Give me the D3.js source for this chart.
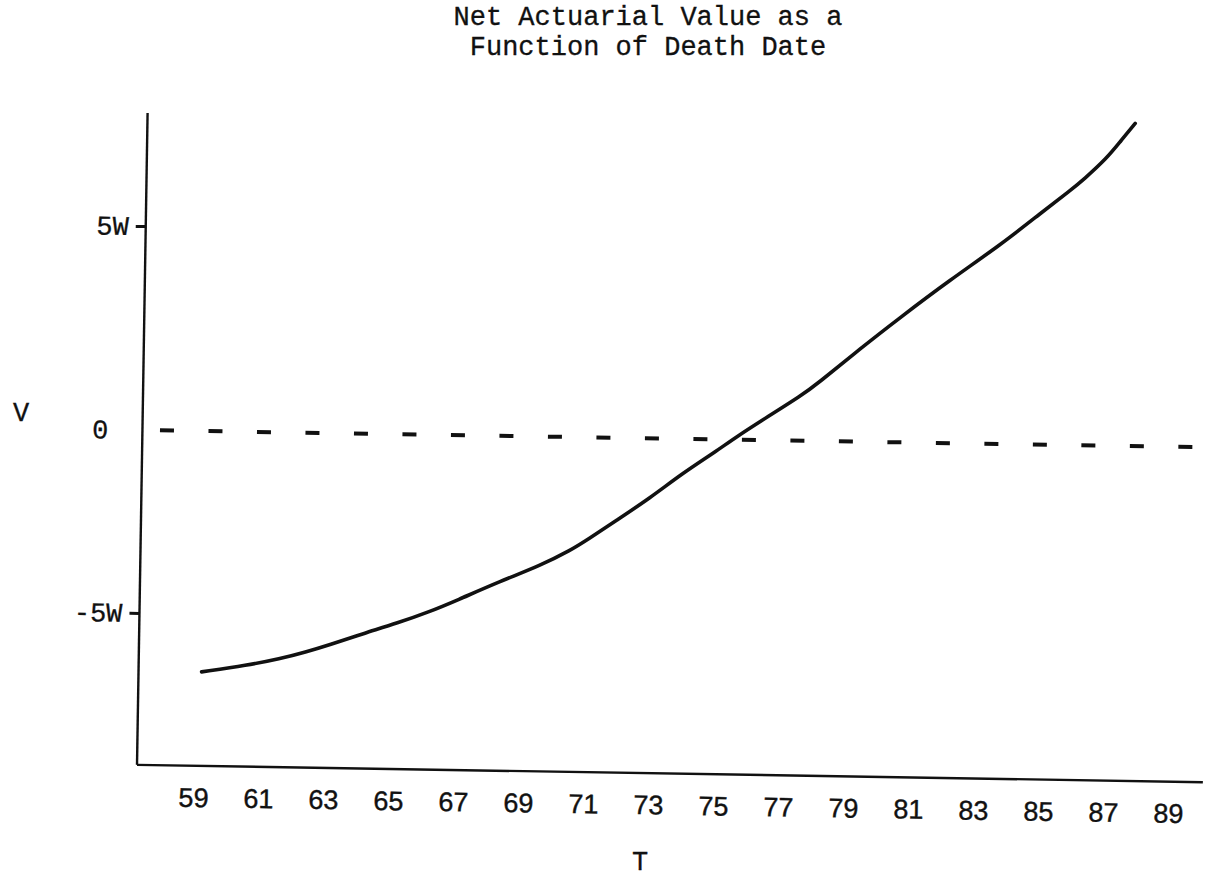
<!DOCTYPE html>
<html>
<head>
<meta charset="utf-8">
<script src="https://cdn.jsdelivr.net/npm/d3@7"></script>
<style>
  html, body { margin: 0; padding: 0; background: #fff; }
  svg { display: block; }
</style>
</head>
<body>
<svg id="chart" width="1217" height="881"></svg>
<script>
// ---- data ----
const titleLines = ["Net Actuarial Value as a", "Function of Death Date"];
const xLabel = "T";
const yLabel = "V";
const xTickValues = [59, 61, 63, 65, 67, 69, 71, 73, 75, 77, 79, 81, 83, 85, 87, 89];
const yTickValues = [-5, 0, 5];
const yTickLabels = ["-5W", "0", "5W"];
const xAxisExtent = [57.26, 90.06];   // years spanned by the drawn T axis
const yAxisExtent = [-9.15, 7.77];    // values (in W) spanned by the drawn V axis
const zeroLineExtent = [57.8, 89.9];  // years spanned by the dashed V = 0 line
const deathYear = [59.2, 60.6, 61.6, 62.4, 63.1, 64.2, 65.2, 66.2, 67.0, 68.3, 69.6, 70.5,
                   71.0, 71.9, 72.9, 73.9, 74.9, 75.5, 76.5, 77.5, 78.0, 79.3, 80.5, 82.0,
                   83.6, 84.8, 85.7, 86.1, 86.8, 87.2, 87.65];
const netValue = [-6.58, -6.38, -6.19, -5.99, -5.79, -5.45, -5.16, -4.83, -4.52, -3.99, -3.51, -3.09,
                  -2.80, -2.25, -1.64, -0.94, -0.34, 0.05, 0.58, 1.10, 1.40, 2.28, 3.05, 3.98,
                  4.90, 5.68, 6.25, 6.52, 7.05, 7.46, 7.91];

// ---- layout ----
const svg = d3.select("#chart");
const mono = "'Liberation Mono', 'Courier New', monospace";
const sans = "'Liberation Sans', Arial, sans-serif";

// title
svg.append("g").selectAll("text").data(titleLines).join("text")
  .attr("x", 648).attr("y", (d, i) => 25 + i * 30)
  .attr("text-anchor", "middle")
  .attr("font-family", mono).attr("font-size", 27).attr("fill", "#111")
  .attr("stroke", "#111").attr("stroke-width", 0.3)
  .text(d => d);

// the scanned plot is slightly rotated
const plot = svg.append("g").attr("transform", "translate(137,765) rotate(0.93)");

const x = d3.scaleLinear().domain(xAxisExtent).range([0, 1066]);
// hand-drawn axis: unequal spacing above and below zero
const y = d3.scaleLinear().domain(yTickValues).range([-152, -335, -539]);

// axes lines
plot.append("line")
  .attr("x1", x(xAxisExtent[0])).attr("x2", x(xAxisExtent[1]))
  .attr("y1", y(yAxisExtent[0])).attr("y2", y(yAxisExtent[0]))
  .attr("stroke", "#111").attr("stroke-width", 2.4);
plot.append("line")
  .attr("x1", x(xAxisExtent[0])).attr("x2", x(xAxisExtent[0]))
  .attr("y1", y(yAxisExtent[0])).attr("y2", y(yAxisExtent[1]))
  .attr("stroke", "#111").attr("stroke-width", 2.4);

// x tick labels
const xAxis = plot.append("g")
  .attr("transform", `translate(0,${y(yAxisExtent[0])})`)
  .call(d3.axisBottom(x).tickValues(xTickValues).tickSize(0).tickPadding(22).tickFormat(d3.format("d")));
xAxis.select(".domain").remove();
xAxis.selectAll("text")
  .attr("font-family", sans).attr("font-size", 27).attr("fill", "#111")
  .attr("stroke", "#111").attr("stroke-width", 0.4);

// y ticks
const yAxis = plot.append("g")
  .call(d3.axisLeft(y).tickValues(yTickValues).tickSize(10).tickPadding(7)
    .tickFormat((d, i) => yTickLabels[i]));
yAxis.select(".domain").remove();
yAxis.selectAll("line").attr("stroke", "#111").attr("stroke-width", 3);
yAxis.selectAll("text")
  .attr("font-family", mono).attr("font-size", 27).attr("fill", "#111")
  .attr("stroke", "#111").attr("stroke-width", 0.3)
  .attr("dy", "0.32em");
yAxis.selectAll(".tick").filter(d => d === 0).select("line").remove();
yAxis.selectAll(".tick").filter(d => d === 0).select("text").attr("x", -34);

// dashed zero line
plot.append("line")
  .attr("x1", x(zeroLineExtent[0])).attr("x2", x(zeroLineExtent[1]))
  .attr("y1", y(0)).attr("y2", y(0))
  .attr("stroke", "#111").attr("stroke-width", 4)
  .attr("stroke-dasharray", "14 34.5");

// curve
const pts = deathYear.map((t, i) => [t, netValue[i]]);
plot.append("path")
  .datum(pts)
  .attr("fill", "none").attr("stroke", "#111").attr("stroke-width", 3.6)
  .attr("stroke-linecap", "round")
  .attr("d", d3.line().x(d => x(d[0])).y(d => y(d[1])).curve(d3.curveBasis));

// axis titles
svg.append("text").attr("x", 21).attr("y", 421)
  .attr("text-anchor", "middle")
  .attr("font-family", mono).attr("font-size", 27).attr("fill", "#111")
  .attr("stroke", "#111").attr("stroke-width", 0.3)
  .text(yLabel);
svg.append("text").attr("x", 640).attr("y", 870)
  .attr("text-anchor", "middle")
  .attr("font-family", mono).attr("font-size", 27).attr("fill", "#111")
  .attr("stroke", "#111").attr("stroke-width", 0.3)
  .text(xLabel);
</script>
</body>
</html>
